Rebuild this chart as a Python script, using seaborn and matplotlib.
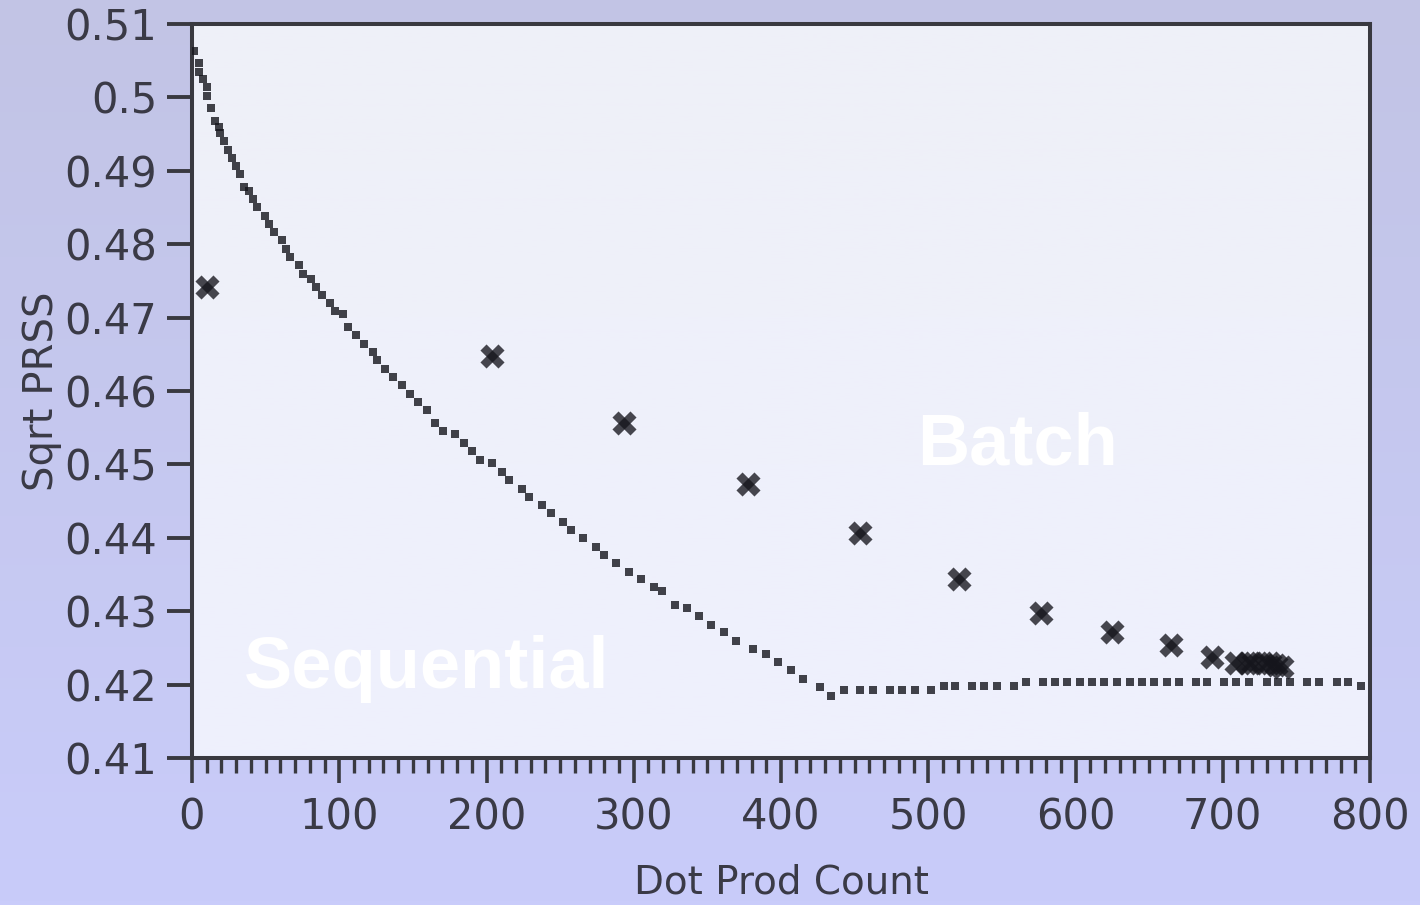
import numpy as np
import pandas as pd
import matplotlib
matplotlib.use("Agg")
import matplotlib.pyplot as plt
from matplotlib.markers import MarkerStyle
from matplotlib.transforms import Affine2D
from matplotlib.ticker import MultipleLocator
import seaborn as sns

# ---------------- data ----------------
seq_x = [1.4, 5.0, 5.0, 7.7, 10.4, 10.4, 13.1, 15.8, 18.1, 19.0, 21.7, 24.7, 27.4, 30.1,
         32.8, 35.3, 38.9, 41.6, 44.4, 49.8, 52.5, 55.7, 61.1, 63.8, 66.6, 72.5, 75.2,
         80.6, 84.2, 88.3, 93.7, 97.3, 102.8, 106.2, 111.6, 116.8, 122.9, 125.8, 131.3,
         136.5, 142.6, 148.1, 153.5, 159.4, 164.8, 170.3, 178.8, 184.5, 190.4, 195.8,
         203.9, 210.2, 215.4, 224.1, 229.2, 237.5, 243.6, 251.8, 257.6, 265.7, 274.6,
         280.0, 288.2, 297.0, 305.1, 313.6, 319.2, 327.8, 336.0, 344.5, 352.7, 361.5,
         369.6, 381.2, 389.6, 398.0, 406.7, 414.7, 426.2, 434.1, 443.0, 453.7, 462.7,
         474.0, 482.2, 491.0, 501.7, 510.5, 518.4, 529.9, 538.1, 546.7, 558.2, 566.4,
         577.9, 585.9, 594.4, 603.1, 611.2, 619.4, 628.2, 637.0, 645.2, 653.3, 661.9,
         670.3, 681.8, 689.5, 700.9, 709.0, 717.8, 729.9, 737.7, 745.7, 757.4, 765.6,
         777.4, 785.3, 793.9]
seq_y = [0.5063, 0.5047, 0.5035, 0.5025, 0.5014, 0.5002, 0.4985, 0.4968, 0.4959, 0.4951,
         0.4941, 0.4928, 0.4918, 0.4907, 0.4895, 0.4878, 0.4873, 0.4861, 0.4850, 0.4839,
         0.4828, 0.4817, 0.4806, 0.4794, 0.4783, 0.4772, 0.4760, 0.4752, 0.4742, 0.4731,
         0.4720, 0.4709, 0.4705, 0.4687, 0.4676, 0.4664, 0.4653, 0.4642, 0.4630, 0.4619,
         0.4608, 0.4596, 0.4585, 0.4574, 0.4557, 0.4546, 0.4541, 0.4529, 0.4518, 0.4506,
         0.4502, 0.4489, 0.4479, 0.4467, 0.4456, 0.4445, 0.4434, 0.4422, 0.4411, 0.4400,
         0.4388, 0.4377, 0.4366, 0.4354, 0.4344, 0.4333, 0.4327, 0.4309, 0.4304, 0.4294,
         0.4281, 0.4271, 0.4259, 0.4248, 0.4242, 0.4231, 0.4220, 0.4208, 0.4197, 0.4185,
         0.4192, 0.4192, 0.4192, 0.4192, 0.4192, 0.4192, 0.4192, 0.4198, 0.4198, 0.4198,
         0.4198, 0.4198, 0.4198, 0.4203, 0.4203, 0.4203, 0.4203, 0.4203, 0.4203, 0.4203,
         0.4203, 0.4203, 0.4203, 0.4203, 0.4203, 0.4203, 0.4203, 0.4203, 0.4203, 0.4203,
         0.4203, 0.4203, 0.4203, 0.4203, 0.4203, 0.4203, 0.4203, 0.4203, 0.4198]

batch_x = [10.2, 203.7, 293.4, 377.6, 453.6, 520.9, 576.6, 624.8, 664.6, 692.5,
           709.0, 716.3, 720.5, 727.3, 732.0, 736.5, 740.0]
batch_y = [0.4742, 0.4648, 0.4556, 0.4473, 0.4407, 0.4344, 0.4298, 0.4272, 0.4254, 0.4237,
           0.4230, 0.4230, 0.4230, 0.4230, 0.4229, 0.4227, 0.4224]

x_ticks = [0, 100, 200, 300, 400, 500, 600, 700, 800]
y_ticks = [0.41, 0.42, 0.43, 0.44, 0.45, 0.46, 0.47, 0.48, 0.49, 0.5, 0.51]
y_tick_labels = ["0.41", "0.42", "0.43", "0.44", "0.45", "0.46", "0.47", "0.48", "0.49", "0.5", "0.51"]

x_label = "Dot Prod Count"
y_label = "Sqrt PRSS"
label_batch = "Batch"
label_seq = "Sequential"

# ---------------- style ----------------
sns.set_style("ticks")
plt.rcParams["font.family"] = ["DejaVu Sans"]
text_col = "#3a3a46"
spine_col = "#393940"

fig = plt.figure(figsize=(14.2, 9.05), dpi=100)

# figure background gradient
bg = fig.add_axes([0, 0, 1, 1], zorder=-10)
grad = np.linspace(0, 1, 256).reshape(-1, 1)
top_c = np.array([0xc2, 0xc4, 0xe5]) / 255
bot_c = np.array([0xc9, 0xcc, 0xfa]) / 255
img = top_c[None, None, :] * (1 - grad[:, :, None]) + bot_c[None, None, :] * grad[:, :, None]
bg.imshow(img, aspect="auto", extent=[0, 1, 0, 1], origin="upper")
bg.set_axis_off()

ax = fig.add_axes([192 / 1420, 1 - 758 / 905, (1370 - 192) / 1420, (758 - 24) / 905], zorder=1)
ax.set_facecolor("#eef0fa")
atop = np.array([0xef, 0xf0, 0xf8]) / 255
abot = np.array([0xee, 0xf0, 0xfd]) / 255
aimg = atop[None, None, :] * (1 - grad[:, :, None]) + abot[None, None, :] * grad[:, :, None]
ax.imshow(aimg, aspect="auto", extent=[0, 1, 0, 1], origin="upper",
          transform=ax.transAxes, zorder=0)

df_seq = pd.DataFrame({"x": seq_x, "y": seq_y})
sns.scatterplot(data=df_seq, x="x", y="y", marker="s", s=34, color="#15151c",
                alpha=0.8, linewidth=0, ax=ax, zorder=3)

# batch: each X built from two crossing bars so the centre darkens like the original
for ang in (45, -45):
    m = MarkerStyle("|", transform=Affine2D().rotate_deg(ang))
    ax.plot(batch_x, batch_y, linestyle="none", marker=m, markersize=19,
            markeredgewidth=6.2, color="#15151c", alpha=0.78, zorder=4)

ax.text(492.4, 0.45005, label_batch, color="white", fontsize=52, fontweight="bold",
        family=["Liberation Sans", "DejaVu Sans"], ha="left", va="baseline", zorder=2)
ax.text(35.3, 0.41954, label_seq, color="white", fontsize=52, fontweight="bold",
        family=["Liberation Sans", "DejaVu Sans"], ha="left", va="baseline", zorder=2)

ax.set_xlim(0, 800)
ax.set_ylim(0.41, 0.51)
ax.set_xticks(x_ticks)
ax.set_xticklabels([str(t) for t in x_ticks])
ax.set_yticks(y_ticks)
ax.set_yticklabels(y_tick_labels)
ax.xaxis.set_minor_locator(MultipleLocator(10))

for s in ax.spines.values():
    s.set_color(spine_col)
    s.set_linewidth(2.9)
    s.set_visible(True)

ax.tick_params(axis="y", which="major", direction="out", length=18, width=2.8,
               color=spine_col, labelsize=30, labelcolor=text_col, pad=7, left=True, right=False)
ax.tick_params(axis="x", which="major", direction="out", length=18, width=2.6,
               color=spine_col, labelsize=30, labelcolor=text_col, pad=10, bottom=True, top=False)
ax.tick_params(axis="x", which="minor", direction="out", length=10.5, width=2.4,
               color=spine_col, bottom=True, top=False)
ax.tick_params(axis="y", which="minor", left=False, right=False)

ax.set_xlabel(x_label, fontsize=28, color=text_col, labelpad=18)
ax.set_ylabel(y_label, fontsize=29, color=text_col, labelpad=2)

fig.savefig("out.png", dpi=100)
